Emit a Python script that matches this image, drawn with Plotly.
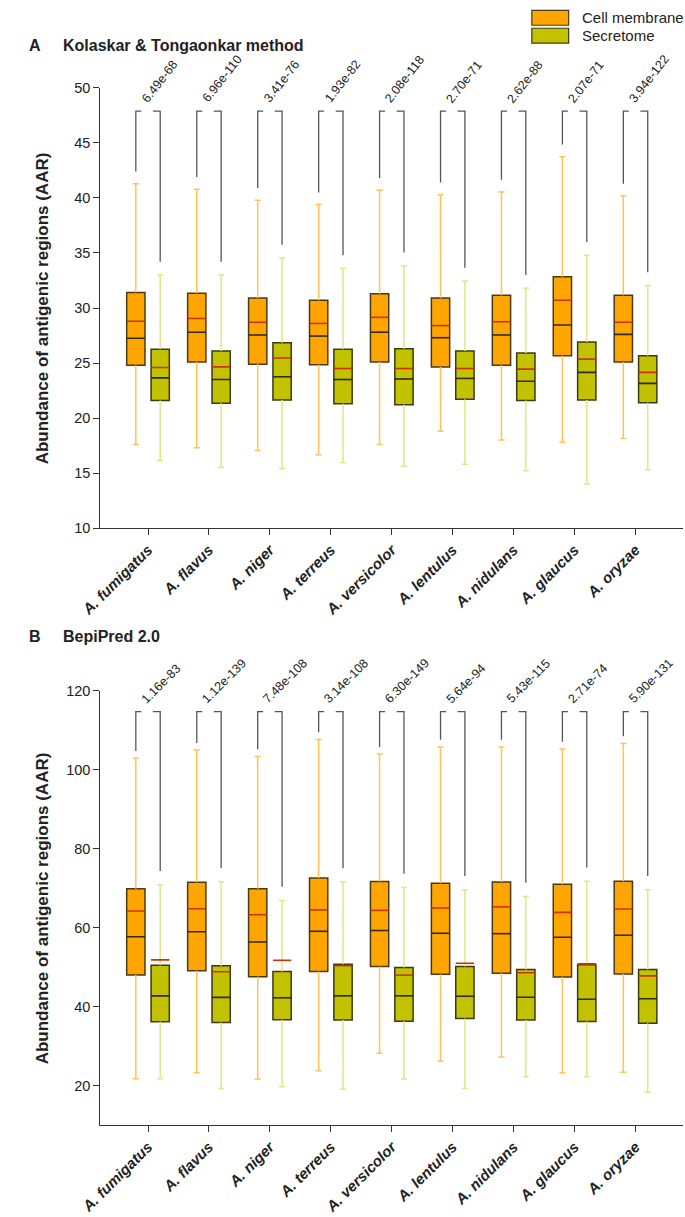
import plotly.graph_objects as go

# ---------------- data ----------------
species = ["A. fumigatus", "A. flavus", "A. niger", "A. terreus", "A. versicolor",
           "A. lentulus", "A. nidulans", "A. glaucus", "A. oryzae"]
series_names = ["Cell membrane", "Secretome"]
y_title = "Abundance of antigenic regions (AAR)"

# Panel A: Kolaskar & Tongaonkar method
a_cm_low = [17.6, 17.3, 17.05, 16.65, 17.6, 18.8, 18.0, 17.8, 18.15]
a_cm_q1 = [24.8, 25.1, 24.9, 24.85, 25.1, 24.65, 24.8, 25.65, 25.1]
a_cm_med = [27.25, 27.8, 27.55, 27.45, 27.8, 27.3, 27.55, 28.45, 27.6]
a_cm_mean = [28.8, 29.05, 28.7, 28.6, 29.15, 28.4, 28.75, 30.7, 28.7]
a_cm_q3 = [31.4, 31.35, 30.9, 30.7, 31.3, 30.9, 31.15, 32.85, 31.15]
a_cm_high = [41.3, 40.8, 39.8, 39.4, 40.7, 40.3, 40.55, 43.75, 40.2]

a_se_low = [16.15, 15.5, 15.4, 15.95, 15.6, 15.8, 15.2, 14.0, 15.3]
a_se_q1 = [21.6, 21.35, 21.65, 21.3, 21.2, 21.7, 21.6, 21.65, 21.4]
a_se_med = [23.65, 23.5, 23.75, 23.5, 23.55, 23.6, 23.35, 24.15, 23.15]
a_se_mean = [24.6, 24.65, 25.45, 24.5, 24.5, 24.5, 24.45, 25.35, 24.15]
a_se_q3 = [26.25, 26.1, 26.85, 26.25, 26.3, 26.1, 25.9, 26.9, 25.65]
a_se_high = [33.0, 33.0, 34.55, 33.6, 33.85, 32.45, 31.8, 34.8, 32.05]

a_pvals = ["6.49e-68", "6.96e-110", "3.41e-76", "1.93e-82", "2.08e-118",
           "2.70e-71", "2.62e-88", "2.07e-71", "3.94e-122"]

# Panel B: BepiPred 2.0
b_cm_low = [21.75, 23.25, 21.65, 23.75, 28.25, 26.2, 27.25, 23.25, 23.4]
b_cm_q1 = [48.0, 49.1, 47.6, 48.9, 50.2, 48.2, 48.5, 47.5, 48.3]
b_cm_med = [57.7, 59.0, 56.4, 59.1, 59.3, 58.6, 58.5, 57.6, 58.1]
b_cm_mean = [64.25, 64.8, 63.3, 64.5, 64.4, 65.0, 65.3, 63.9, 64.75]
b_cm_q3 = [69.9, 71.5, 69.9, 72.6, 71.7, 71.3, 71.6, 71.0, 71.75]
b_cm_high = [103.0, 105.0, 103.4, 107.7, 104.0, 105.8, 105.8, 105.3, 106.7]

b_se_low = [21.75, 19.25, 19.75, 19.1, 21.65, 19.3, 22.25, 22.25, 18.3]
b_se_q1 = [36.2, 36.0, 36.7, 36.6, 36.3, 37.0, 36.6, 36.25, 35.8]
b_se_med = [42.75, 42.35, 42.25, 42.75, 42.75, 42.65, 42.4, 41.9, 42.0]
b_se_mean = [51.85, 48.85, 51.75, 50.4, 48.0, 51.0, 48.6, 50.85, 47.8]
b_se_q3 = [50.5, 50.4, 48.9, 50.75, 49.9, 50.2, 49.4, 50.65, 49.4]
b_se_high = [70.9, 71.65, 66.9, 71.6, 70.2, 69.6, 67.9, 71.75, 69.6]

b_pvals = ["1.16e-83", "1.12e-139", "7.48e-108", "3.14e-108", "6.30e-149",
           "5.64e-94", "5.43e-115", "2.71e-74", "5.90e-131"]

# ---------------- style ----------------
W, H = 685, 1217
FONT = "Liberation Sans, Arial, Helvetica, sans-serif"
TXT = "#222222"
CM_FILL, SE_FILL = "#FFA500", "#C2C200"
CM_EDGE, SE_EDGE = "#4a3a14", "#3a3a12"
CM_WHISK, SE_WHISK = "#FFC25A", "#E4E48A"
MED_C, MEAN_C, BRK_C = "#2e2a1e", "#CC3300", "#555555"
OFF, BW, CAP = 0.2, 0.3, 0.05


def py(px):
    return 1 - px / H


fig = go.Figure()


def add_panel(xa, ya, cm, se, pvals, top, gapL, gapR, angle):
    xs = list(range(len(species)))
    for d, sign, fill, edge, wc, name in [
        (cm, -1, CM_FILL, CM_EDGE, CM_WHISK, series_names[0]),
        (se, 1, SE_FILL, SE_EDGE, SE_WHISK, series_names[1]),
    ]:
        low, q1, med, mean, q3, high = d
        pos = [i + sign * OFF for i in xs]
        # whiskers
        wx, wy = [], []
        for p, lo, a, b, hi in zip(pos, low, q1, q3, high):
            wx += [p, p, None, p, p, None, p - CAP, p + CAP, None, p - CAP, p + CAP, None]
            wy += [b, hi, None, a, lo, None, hi, hi, None, lo, lo, None]
        fig.add_trace(go.Scatter(x=wx, y=wy, mode="lines", line=dict(color=wc, width=1.5),
                                 xaxis=xa, yaxis=ya, showlegend=False, hoverinfo="skip"))
        # boxes
        fig.add_trace(go.Bar(x=pos, y=[b - a for a, b in zip(q1, q3)], base=q1, width=BW,
                             marker=dict(color=fill, line=dict(color=edge, width=1.5)),
                             name=name, xaxis=xa, yaxis=ya, showlegend=False))
        # median & mean lines
        for vals, col in [(med, MED_C), (mean, MEAN_C)]:
            lx, ly = [], []
            for p, v in zip(pos, vals):
                lx += [p - BW / 2, p + BW / 2, None]
                ly += [v, v, None]
            fig.add_trace(go.Scatter(x=lx, y=ly, mode="lines", line=dict(color=col, width=1.6),
                                     xaxis=xa, yaxis=ya, showlegend=False, hoverinfo="skip"))
    # brackets
    bx, by = [], []
    for i in xs:
        l, r = i - OFF, i + OFF
        bx += [l, l, l + 0.09, None, r - 0.12, r, r, None]
        by += [cm[5][i] + gapL, top, top, None, top, top, se[5][i] + gapR, None]
    fig.add_trace(go.Scatter(x=bx, y=by, mode="lines", line=dict(color=BRK_C, width=1.3),
                             xaxis=xa, yaxis=ya, showlegend=False, hoverinfo="skip"))
    for i, p in zip(xs, pvals):
        fig.add_annotation(x=i - 0.2, y=top, xref=xa, yref=ya.replace("axis", ""),
                           text=p, textangle=angle, showarrow=False,
                           xanchor="left", yanchor="bottom", yshift=3,
                           font=dict(family=FONT, size=12.5, color=TXT))


add_panel("x", "y",
          (a_cm_low, a_cm_q1, a_cm_med, a_cm_mean, a_cm_q3, a_cm_high),
          (a_se_low, a_se_q1, a_se_med, a_se_mean, a_se_q3, a_se_high),
          a_pvals, 47.9, 1.1, 1.2, -52)
add_panel("x2", "y2",
          (b_cm_low, b_cm_q1, b_cm_med, b_cm_mean, b_cm_q3, b_cm_high),
          (b_se_low, b_se_q1, b_se_med, b_se_mean, b_se_q3, b_se_high),
          b_pvals, 114.75, 1.8, 3.5, -45)

xdom = [82 / W, 683 / W]
ticktext = ["<b><i>%s</i></b>" % s for s in species]
common_x = dict(domain=xdom, range=[-0.78, 8.78], tickmode="array",
                tickvals=list(range(len(species))), ticktext=ticktext, tickangle=-45,
                ticks="outside", ticklen=6, tickcolor="#333", showline=True,
                linecolor="#333", linewidth=1.2, showgrid=False, zeroline=False,
                tickfont=dict(family=FONT, size=15, color=TXT))
common_y = dict(ticks="outside", ticklen=6, tickcolor="#333", showline=True,
                linecolor="#333", linewidth=1.2, showgrid=False, zeroline=False,
                tickfont=dict(family=FONT, size=14.5, color=TXT))

A_TOP, A_BOT, B_TOP, B_BOT = 81, 527, 692, 1132
fig.update_layout(
    width=W, height=H, margin=dict(l=0, r=0, t=0, b=0),
    paper_bgcolor="white", plot_bgcolor="white", barmode="overlay",
    showlegend=False, hovermode=False,
    xaxis=dict(anchor="y", **common_x),
    yaxis=dict(anchor="x", domain=[py(A_BOT), py(A_TOP)], range=[10, 50], dtick=5, **common_y),
    xaxis2=dict(anchor="y2", **common_x),
    yaxis2=dict(anchor="x2", domain=[py(B_BOT), py(B_TOP)], range=[10, 120], dtick=20, **common_y),
)

# y-axis titles
for top, bot in [(A_TOP, A_BOT), (B_TOP, B_BOT)]:
    fig.add_annotation(x=22 / W, y=py((top + bot) / 2), xref="paper", yref="paper",
                       text="<b>%s</b>" % y_title, textangle=-90, showarrow=False,
                       xanchor="center", yanchor="middle",
                       font=dict(family=FONT, size=17, color=TXT))

# panel titles
for letter, title, ypx in [("A", "Kolaskar & Tongaonkar method", 38), ("B", "BepiPred 2.0", 637)]:
    fig.add_annotation(x=6 / W, y=py(ypx), xref="paper", yref="paper", text="<b>%s</b>" % letter,
                       showarrow=False, xanchor="left", yanchor="middle",
                       font=dict(family=FONT, size=16, color=TXT))
    fig.add_annotation(x=41 / W, y=py(ypx), xref="paper", yref="paper", text="<b>%s</b>" % title,
                       showarrow=False, xanchor="left", yanchor="middle",
                       font=dict(family=FONT, size=16, color=TXT))

# legend (drawn manually)
for name, fill, edge, ypx in [(series_names[0], CM_FILL, CM_EDGE, 10), (series_names[1], SE_FILL, SE_EDGE, 28)]:
    fig.add_shape(type="rect", xref="paper", yref="paper", x0=527 / W, x1=565 / W,
                  y0=py(ypx + 7.5), y1=py(ypx - 7.5), fillcolor=fill, line=dict(color=edge, width=1.2))
    fig.add_annotation(x=577 / W, y=py(ypx), xref="paper", yref="paper", text=name,
                       showarrow=False, xanchor="left", yanchor="middle",
                       font=dict(family=FONT, size=15, color=TXT))

fig.write_html("out.html", config={"displayModeBar": False, "staticPlot": True},
               post_script="document.body.style.margin='0px';document.body.style.overflow='hidden';")
